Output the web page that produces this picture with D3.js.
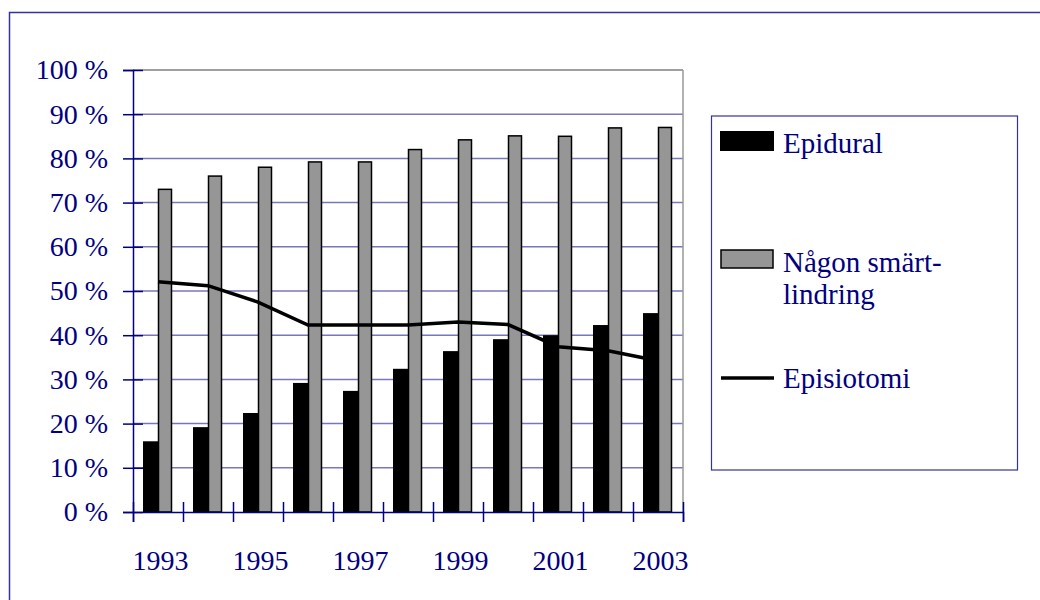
<!DOCTYPE html>
<html>
<head>
<meta charset="utf-8">
<script src="https://cdn.jsdelivr.net/npm/d3@7"></script>
<style>
  body { margin: 0; background: #fff; }
  text { font-family: "Liberation Serif", "Times New Roman", serif; fill: #000080; }
</style>
</head>
<body>
<div id="chart"></div>
<script>
// chart data
var years = [1993, 1994, 1995, 1996, 1997, 1998, 1999, 2000, 2001, 2002, 2003];
var epidural = [16, 19.2, 22.4, 29.2, 27.4, 32.4, 36.4, 39.1, 40, 42.3, 45];
var smartlindring = [73, 76, 78, 79.2, 79.2, 82, 84.2, 85.1, 85, 86.9, 87];
var episiotomi = [52.1, 51.2, 47.5, 42.3, 42.3, 42.3, 43, 42.4, 37.4, 36.5, 34.2];
var yTicks = [0, 10, 20, 30, 40, 50, 60, 70, 80, 90, 100];
var xLabels = [1993, 1995, 1997, 1999, 2001, 2003];
var legendNames = ["Epidural", ["Någon smärt-", "lindring"], "Episiotomi"];

var svg = d3.select("#chart")
  .append("svg")
  .attr("width", 1040)
  .attr("height", 600);

// outer frame
svg.append("rect")
  .attr("x", 9.5).attr("y", 12.5)
  .attr("width", 1040).attr("height", 600)
  .attr("fill", "none")
  .attr("stroke", "#333399")
  .attr("stroke-width", 1.5);

var plot = {left: 133, right: 683, top: 70, bottom: 512};

var x = d3.scaleBand()
  .domain(years)
  .range([plot.left, plot.right])
  .padding(0);

var y = d3.scaleLinear()
  .domain([0, 100])
  .range([plot.bottom, plot.top]);

var bw = x.bandwidth() * 0.3;

// gridlines
svg.append("g")
  .selectAll("line")
  .data(yTicks.filter(function(d) { return d > 0; }))
  .enter()
  .append("line")
  .attr("x1", plot.left).attr("x2", plot.right)
  .attr("y1", function(d) { return y(d); })
  .attr("y2", function(d) { return y(d); })
  .attr("stroke", function(d) { return d == 100 ? "#808080" : "#7777bb"; })
  .attr("stroke-width", 1.5);

// right border of plot
svg.append("line")
  .attr("x1", plot.right).attr("x2", plot.right)
  .attr("y1", plot.top).attr("y2", plot.bottom)
  .attr("stroke", "#999")
  .attr("stroke-width", 1.5);

// bars
svg.append("g")
  .selectAll("rect")
  .data(years)
  .enter()
  .append("rect")
  .attr("x", function(d) { return x(d) + x.bandwidth() / 2 - bw; })
  .attr("y", function(d, i) { return y(epidural[i]); })
  .attr("width", bw)
  .attr("height", function(d, i) { return plot.bottom - y(epidural[i]); })
  .attr("fill", "#000");

svg.append("g")
  .selectAll("rect")
  .data(years)
  .enter()
  .append("rect")
  .attr("x", function(d) { return x(d) + x.bandwidth() / 2 + 0.5; })
  .attr("y", function(d, i) { return y(smartlindring[i]); })
  .attr("width", bw - 2)
  .attr("height", function(d, i) { return plot.bottom - y(smartlindring[i]); })
  .attr("fill", "#969696")
  .attr("stroke", "#000")
  .attr("stroke-width", 1.5);

// line
var line = d3.line()
  .x(function(d, i) { return x(years[i]) + x.bandwidth() / 2; })
  .y(function(d) { return y(d); });

svg.append("path")
  .datum(episiotomi)
  .attr("d", line)
  .attr("fill", "none")
  .attr("stroke", "#000")
  .attr("stroke-width", 3.5);

// y axis, ticks crossing the axis line
var yAxis = svg.append("g")
  .attr("transform", "translate(" + plot.left + ",0)")
  .call(d3.axisLeft(y).tickValues(yTicks).tickSize(10).tickPadding(15)
    .tickFormat(function(d) { return d + " %"; }));
svg.append("g")
  .attr("transform", "translate(" + plot.left + ",0)")
  .call(d3.axisLeft(y).tickValues(yTicks).tickSize(-10).tickFormat(""))
  .select(".domain").remove();
yAxis.selectAll("text")
  .attr("font-size", 28)
  .attr("fill", "#000080")
  .style("font-family", "Liberation Serif");

// x axis ticks at band edges
var xEdge = d3.scaleLinear().domain([0, years.length]).range([plot.left, plot.right]);
svg.append("g")
  .attr("transform", "translate(0," + plot.bottom + ")")
  .call(d3.axisBottom(xEdge).ticks(years.length).tickSize(10).tickFormat(""));
svg.append("g")
  .attr("transform", "translate(0," + plot.bottom + ")")
  .call(d3.axisBottom(xEdge).ticks(years.length).tickSize(-10).tickFormat(""))
  .select(".domain").remove();

// x labels
var xAxis = svg.append("g")
  .attr("transform", "translate(0," + plot.bottom + ")")
  .call(d3.axisBottom(x).tickValues(xLabels).tickSize(0));
xAxis.select(".domain").remove();
xAxis.selectAll("text")
  .attr("y", 58).attr("dy", 0)
  .attr("dx", 2.5)
  .attr("font-size", 28)
  .attr("fill", "#000080")
  .style("font-family", "Liberation Serif");

svg.selectAll(".domain, .tick line").attr("stroke", "#000080").attr("stroke-width", 1.5);

// legend
var lg = svg.append("g");
lg.append("rect")
  .attr("x", 711.5).attr("y", 116)
  .attr("width", 306).attr("height", 354)
  .attr("fill", "#fff")
  .attr("stroke", "#333399")
  .attr("stroke-width", 1.2);

lg.append("rect")
  .attr("x", 720).attr("y", 131).attr("width", 54).attr("height", 20)
  .attr("fill", "#000");
lg.append("rect")
  .attr("x", 721).attr("y", 250).attr("width", 52).attr("height", 18)
  .attr("fill", "#969696").attr("stroke", "#000").attr("stroke-width", 1.5);
lg.append("line")
  .attr("x1", 721).attr("x2", 774).attr("y1", 378).attr("y2", 378)
  .attr("stroke", "#000").attr("stroke-width", 3.5);

lg.append("text").attr("x", 783).attr("y", 153).attr("font-size", 29).text(legendNames[0]);
lg.append("text").attr("x", 783).attr("y", 272).attr("font-size", 29).text(legendNames[1][0]);
lg.append("text").attr("x", 783).attr("y", 304).attr("font-size", 29).text(legendNames[1][1]);
lg.append("text").attr("x", 783).attr("y", 388).attr("font-size", 29).text(legendNames[2]);
</script>
</body>
</html>
